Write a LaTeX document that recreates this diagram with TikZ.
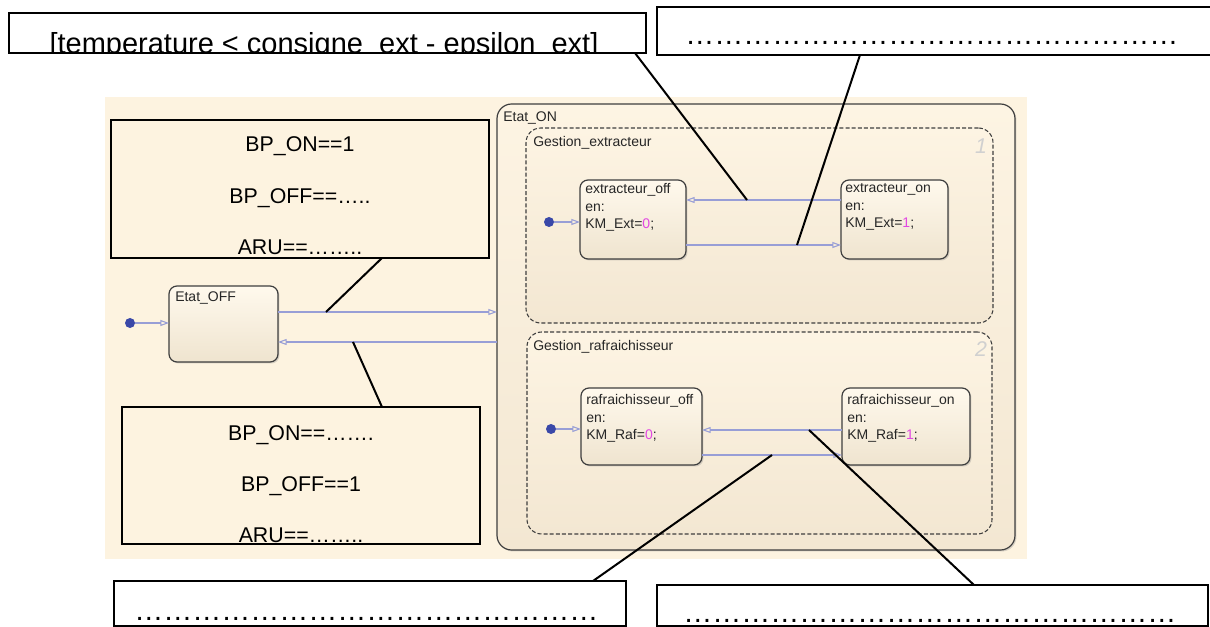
\documentclass[tikz,border=0pt]{standalone}
\usepackage{fontspec}
\setmainfont{Liberation Sans}
\usetikzlibrary{arrows.meta,shadows}

\definecolor{bgcream}{RGB}{253,243,224}
\definecolor{sttop}{RGB}{255,249,237}
\definecolor{stbot}{RGB}{239,228,207}
\definecolor{ontop}{RGB}{253,244,227}
\definecolor{onbot}{RGB}{243,231,210}
\definecolor{stedge}{RGB}{62,62,62}
\definecolor{trcol}{RGB}{152,158,214}
\definecolor{dotcol}{RGB}{58,72,168}
\definecolor{kmpink}{RGB}{226,72,226}
\definecolor{numgray}{RGB}{208,208,208}

\newcommand\biglab{\fontsize{21.75}{26}\selectfont}
\newcommand\midlab{\fontsize{16}{19}\selectfont}
\newcommand\stfont{\fontsize{10.5}{13.3}\selectfont}
% runs of ellipsis characters for the blank answer lines
\newcommand\ellfive{\char"2026\char"2026\char"2026\char"2026\char"2026}
\newcommand\ellsixteen{\ellfive\ellfive\ellfive\char"2026}
\newcommand\ellseventeen{\ellsixteen\char"2026}

\begin{document}
\begin{tikzpicture}[x=0.75pt,y=-0.75pt,
  stbox/.style={draw=stedge, line width=0.9pt, rounded corners=6pt,
    top color=sttop, bottom color=stbot, inner sep=0pt, outer sep=0pt,
    drop shadow={shadow xshift=1.1pt, shadow yshift=-1.1pt, opacity=0.3}},
  onbox/.style={stbox, rounded corners=11pt, top color=ontop, bottom color=onbot},
  regionbox/.style={draw=stedge, line width=0.8pt, dash pattern=on 3pt off 1.6pt,
    rounded corners=11pt, top color=ontop, bottom color=onbot,
    inner sep=0pt, outer sep=0pt},
  sttext/.style={anchor=north west, inner sep=0pt, align=left, font=\stfont,
    text=black!85},
  regnum/.style={inner sep=0pt, font=\fontsize{16}{16}\selectfont\itshape,
    text=numgray},
  trans/.style={draw=trcol, line width=0.8pt,
    -{Triangle[open, length=6.5pt, width=4.5pt]}},
  initdot/.style={circle, fill=dotcol, inner sep=0pt, minimum size=7.5pt},
  callbox/.style={draw=black, line width=1.5pt, inner sep=0pt, outer sep=0pt},
  callline/.style={draw=black, line width=1.5pt},
  bigtext/.style={inner sep=0pt, anchor=base, font=\biglab},
  dottext/.style={inner sep=0pt, anchor=base west, font=\biglab},
  midtext/.style={inner sep=0pt, anchor=base, font=\midlab},
]
\useasboundingbox (0,0) rectangle (1210,627);

% chart background
\fill[bgcream] (105,97) rectangle (1027,559);

% superstate and its two parallel regions
\node[onbox, minimum width=388.5pt, minimum height=334.5pt] (ON) at (756,327) {};
\node[regionbox, minimum width=350.25pt, minimum height=146.25pt] (GE) at (759.5,225.5) {};
\node[regionbox, minimum width=348.75pt, minimum height=151.5pt] (GR) at (759.5,433) {};
\node[sttext] (ONt) at (503,111) {Etat\_ON};
\node[sttext] (GEt) at (533,136) {Gestion\_extracteur};
\node[sttext] (GRt) at (533,340) {Gestion\_rafraichisseur};
\node[regnum] (GEn) at (981,146) {1};
\node[regnum] (GRn) at (981,349) {2};

% states
\node[stbox, minimum width=81.75pt, minimum height=57pt] (OFF) at (223.5,324) {};
\node[sttext] (OFFt) at (175,291) {Etat\_OFF};

\node[stbox, minimum width=79.5pt, minimum height=59.25pt] (EOFF) at (633,219.5) {};
\node[stbox, minimum width=80.25pt, minimum height=59.25pt] (EON) at (894.5,219.5) {};
\node[sttext] (EOFFt) at (585,183) {extracteur\_off\\en:\\KM\_Ext=\textcolor{kmpink}{0};};
\node[sttext] (EONt) at (845,183) {extracteur\_on\\en:\\KM\_Ext=\textcolor{kmpink}{1};};

\node[stbox, minimum width=90.75pt, minimum height=57.75pt] (ROFF) at (641.5,426.5) {};
\node[stbox, minimum width=96pt, minimum height=57.75pt] (RON) at (906,426.5) {};
\node[sttext] (ROFFt) at (586,394) {rafraichisseur\_off\\en:\\KM\_Raf=\textcolor{kmpink}{0};};
\node[sttext] (RONt) at (847,394) {rafraichisseur\_on\\en:\\KM\_Raf=\textcolor{kmpink}{1};};

% default transitions
\node[initdot] (D0) at (130,323) {};
\node[initdot] (D1) at (549,222) {};
\node[initdot] (D2) at (551,429) {};
\coordinate (y200) at (0,200);
\coordinate (y222) at (0,222);
\coordinate (y245) at (0,245);
\coordinate (y312) at (0,312);
\coordinate (y323) at (0,323);
\coordinate (y342) at (0,342);
\coordinate (y429) at (0,429);
\coordinate (y430) at (0,430);
\coordinate (y455) at (0,455);
\draw[trans] (D0) -- (OFF.west |- y323);
\draw[trans] (D1) -- (EOFF.west |- y222);
\draw[trans] (D2) -- (ROFF.west |- y429);

% transitions between states
\draw[trans] (OFF.east |- y312) -- (ON.west |- y312);
\draw[trans] (ON.west |- y342) -- (OFF.east |- y342);
\draw[trans] (EON.west |- y200) -- (EOFF.east |- y200);
\draw[trans] (EOFF.east |- y245) -- (EON.west |- y245);
\draw[trans] (RON.west |- y430) -- (ROFF.east |- y430);
\draw[trans] (ROFF.east |- y455) -- (RON.west |- y455);

% points picked on the transitions
\coordinate (pE1) at (747,200);
\coordinate (pE2) at (797,245);
\coordinate (pT1) at (326,312);
\coordinate (pT2) at (353,342);
\coordinate (pR1) at (809,430);
\coordinate (pR2) at (772,455);

% guard label boxes
\node[callbox, minimum width=477.75pt, minimum height=30pt] (LA) at (327,33) {};
\begin{scope}
  \clip (LA.south west) rectangle (LA.north east);
  \node[bigtext] (LAt) at (324,54) {[temperature < consigne\_ext - epsilon\_ext]};
\end{scope}
% this box runs on past the right edge of the page
\node[callbox, minimum width=429.75pt, minimum height=36pt] (LB) at (943.5,31) {};
\node[dottext] (LBt) at (685,45) {\ellseventeen};

\node[callbox, minimum width=283.5pt, minimum height=103.5pt] (LC) at (300,189) {};
\node[midtext] (LC1) at (300,152) {BP\_ON==1};
\node[midtext] (LC2) at (300,204) {BP\_OFF==…..};
\node[midtext] (LC3) at (300,255) {ARU==……..};

\node[callbox, minimum width=268.5pt, minimum height=102.75pt] (LD) at (301,475.5) {};
\node[midtext] (LD1) at (301,440) {BP\_ON==…….};
\node[midtext] (LD2) at (301,491) {BP\_OFF==1};
\node[midtext] (LD3) at (301,542) {ARU==……..};

\node[callbox, minimum width=384pt, minimum height=33.75pt] (LE) at (370,603.5) {};
\node[dottext] (LEt) at (134,620) {\ellsixteen};
\node[callbox, minimum width=413.25pt, minimum height=30.75pt] (LF) at (932.5,605.5) {};
\node[dottext] (LFt) at (683,622) {\ellseventeen};

% leader lines from the labels to their transitions
\coordinate (kA) at (635,0);
\coordinate (kB) at (860,0);
\coordinate (kC) at (382,0);
\coordinate (kD) at (382,0);
\coordinate (kE) at (593,0);
\coordinate (kF) at (974,0);
\draw[callline] (LA.south -| kA) -- (pE1);
\draw[callline] (LB.south -| kB) -- (pE2);
\draw[callline] (LC.south -| kC) -- (pT1);
\draw[callline] (LD.north -| kD) -- (pT2);
\draw[callline] (LE.north -| kE) -- (pR2);
\draw[callline] (LF.north -| kF) -- (pR1);
\end{tikzpicture}
\end{document}
